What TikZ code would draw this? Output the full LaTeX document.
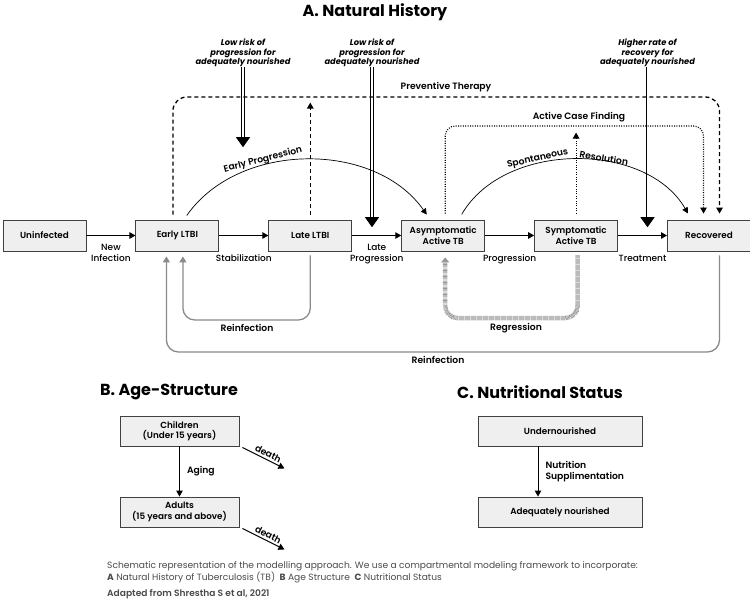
\documentclass[tikz,border=0pt]{standalone}
\usepackage{fontspec}
\setmainfont{Poppins}
\newfontfamily\medio{Poppins Medium}
\newfontfamily\semi{Poppins SemiBold}
\usepackage{tikz}
\usetikzlibrary{arrows.meta,positioning,calc}
\definecolor{relleno}{HTML}{EFEFEF}
\definecolor{gris}{HTML}{8A8A8A}
\definecolor{texto}{HTML}{4A4A4A}
\tikzset{
  estado/.style={rectangle, draw=black!75, fill=relleno, line width=0.9pt,
                 minimum width=83pt, minimum height=31pt, inner sep=1pt,
                 align=center, font=\fontsize{8.8}{10.5}\selectfont\semi},
  caja/.style={estado, minimum height=30pt},
  titulo/.style={font=\fontsize{16}{18}\selectfont\bfseries},
  nota/.style={align=center, inner sep=0pt,
               font=\fontsize{8.3}{9.6}\selectfont\bfseries\itshape},
  etiq/.style={align=center, inner sep=0pt, font=\fontsize{9}{11}\selectfont\medio},
  etiqb/.style={align=center, inner sep=1pt, font=\fontsize{9.2}{11}\selectfont\semi},
  flecha/.style={-{Triangle[length=6pt,width=6.5pt]}, line width=1pt},
  curva/.style={-{Triangle[length=6pt,width=6pt]}, line width=0.7pt},
  prev/.style={-{Triangle[length=6pt,width=6.5pt]}, line width=1.3pt,
               dash pattern=on 4pt off 3pt, rounded corners=14pt},
  acf/.style={-{Triangle[length=6pt,width=6.5pt]}, line width=1.1pt,
              dash pattern=on 1pt off 1.4pt, rounded corners=10pt},
  nutri/.style={-{Triangle[length=10pt,width=14pt]}, line width=0.9pt,
                double=white, double distance=2pt},
  reinf/.style={-{Triangle[length=6pt,width=7pt]}, draw=gris, line width=1.3pt,
                rounded corners=12pt, shorten <=4pt, shorten >=5pt},
  regr/.style={-{Triangle[length=5pt,width=8pt]}, draw=gris!90, line width=4.5pt,
               dash pattern=on 0.6pt off 0.6pt, rounded corners=12pt,
               shorten <=4pt, shorten >=6pt}
}

\begin{document}
\begin{tikzpicture}[x=1pt, y=1pt]
  \useasboundingbox (0,0) rectangle (750,-603);

  % A. Historia natural
  \node[titulo] (ta) at (375,-12) {A. Natural History};
  \node[estado] (un) at (44.5,-235.5) {Uninfected};
  \node[estado, right=49pt of un] (el) {Early LTBI};
  \node[estado, right=49pt of el] (ll) {Late LTBI};
  \node[estado, right=49pt of ll] (aa) {Asymptomatic\\Active TB};
  \node[estado, right=49pt of aa] (sa) {Symptomatic\\Active TB};
  \node[estado, right=49pt of sa] (rec) {Recovered};
  \draw[flecha] (un) -- (el) node[etiq, midway, below=8pt] {New\\Infection};
  \draw[flecha] (el) -- (ll) node[etiq, midway, below=19pt] {Stabilization};
  \draw[flecha] (ll) -- (aa) node[etiq, midway, below=8pt] {Late\\Progression};
  \draw[flecha] (aa) -- (sa) node[etiq, midway, below=19pt] {Progression};
  \draw[flecha] (sa) -- (rec) node[etiq, midway, below=19pt] {Treatment};

  % notas de nutricion
  \node[nota] (lr1) at (243,-53) {Low risk of\\progression for\\adequately nourished};
  \node[nota] (lr2) at (372,-53) {Low risk of\\progression for\\adequately nourished};
  \node[nota] (hr) at (647.5,-53) {Higher rate of\\recovery for\\adequately nourished};
  \draw[nutri] (lr1.south) -- ++(0,-80);
  \draw[nutri] (lr2.south) -- ++(0,-160);
  \draw[nutri] (hr.south) -- ++(0,-160);

  % terapia preventiva y busqueda activa
  \coordinate (pt) at (446,-97);
  \draw[prev, shorten <=5pt, shorten >=6pt]
        ([xshift=-4.5pt]el.north) |- (pt) -| ([xshift=10.5pt]rec.north);
  \node[etiqb, above=4pt of pt] {Preventive Therapy};
  \draw[prev, shorten <=5pt] (ll.north) -- ++(0,117);
  \coordinate (cf) at (579,-126);
  \draw[acf, shorten <=6pt, shorten >=6pt]
        ([xshift=2pt]aa.north) |- (cf) -| ([xshift=-5.5pt]rec.north);
  \node[etiqb, above=3pt of cf] {Active Case Finding};
  \draw[acf, shorten <=6pt] (sa.north) -- ++(0,87);

  % progresion temprana y resolucion espontanea
  \draw[curva, shorten <=5pt, shorten >=6pt]
        ([xshift=6.5pt]el.north) to[bend left=55]
        node[etiqb, pos=0.35, sloped, above] {Early Progression}
        ([xshift=-13pt]aa.north);
  \draw[curva, shorten <=6pt, shorten >=7pt]
        ([xshift=15.5pt]aa.north) to[bend left=60]
        node[etiqb, pos=0.37, sloped, above] {Spontaneous}
        node[etiqb, pos=0.6, sloped, above] {Resolution}
        ([xshift=-17.5pt]rec.north);

  % reinfeccion y regresion
  \coordinate (r1) at (247,-320);
  \draw[reinf] (ll.south) |- (r1) -| ([xshift=5.5pt]el.south);
  \node[etiqb, below=3pt of r1] {Reinfection};
  \coordinate (r2) at (438,-352);
  \draw[reinf] ([xshift=10.5pt]rec.south) |- (r2) -| ([xshift=-11pt]el.south);
  \node[etiqb, below=3pt of r2] {Reinfection};
  \coordinate (rg) at (516,-318);
  \draw[regr] ([xshift=1.5pt]sa.south) |- (rg) -| ([xshift=2pt]aa.south);
  \node[etiqb, below=4pt of rg] {Regression};

  % B. Estructura por edad
  \node[titulo] (tb) at (169,-392) {B. Age-Structure};
  \node[caja, minimum width=119pt] (ch) at (179.5,-431) {Children\\(Under 15 years)};
  \node[caja, minimum width=119pt] (ad) at (179.5,-512) {Adults\\(15 years and above)};
  \draw[flecha] (ch) -- (ad) node[etiqb, midway, right=6pt] {Aging};
  \draw[flecha] ([xshift=3pt,yshift=-1pt]ch.south east) -- ++(42,-21)
        node[etiqb, pos=0.55, sloped, above=1pt] {death};
  \draw[flecha] ([xshift=3pt,yshift=-1pt]ad.south east) -- ++(42,-21)
        node[etiqb, pos=0.55, sloped, above=1pt] {death};

  % C. Estado nutricional
  \node[titulo] (tc) at (540,-392) {C. Nutritional Status};
  \node[caja, minimum width=164pt] (und) at (560,-431) {Undernourished};
  \node[caja, minimum width=164pt] (adq) at (560,-512) {Adequately nourished};
  \draw[flecha] ([xshift=-22pt]und.south) -- ([xshift=-22pt]adq.north)
        node[etiqb, midway, right=6pt, align=left] {Nutrition\\Supplimentation};

  % pie de figura
  \node[anchor=west, inner sep=0pt, text=texto, font=\fontsize{9.1}{11}\selectfont]
        (c1) at (107,-566) {Schematic representation of the modelling approach. We use a compartmental modeling framework to incorporate:};
  \node[anchor=west, inner sep=0pt, text=texto, font=\fontsize{9.1}{11}\selectfont]
        (c2) at (107,-577) {\textbf{A} Natural History of Tuberculosis (TB)\enspace\textbf{B} Age Structure\enspace\textbf{C} Nutritional Status};
  \node[anchor=west, inner sep=0pt, text=texto, font=\fontsize{9.1}{11}\selectfont\semi]
        (c3) at (107,-594) {Adapted from Shrestha S et al, 2021};
\end{tikzpicture}
\end{document}
